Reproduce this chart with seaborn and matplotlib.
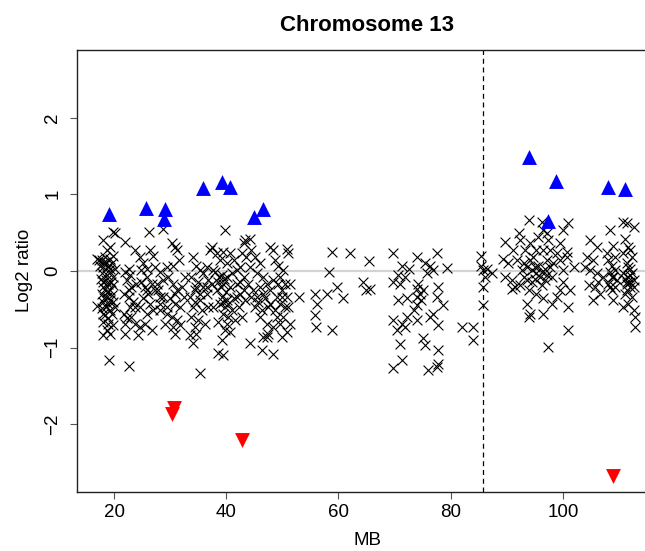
import pandas as pd
import matplotlib
matplotlib.use("Agg")
import matplotlib.pyplot as plt
import seaborn as sns

# chromosome 13 probes, position in MB and log2 ratio
probe_mb = [
    # ~17-20 MB
    18.1, 19.9, 20.2, 19.3, 18.7, 16.9, 17.8, 18.4, 19.3, 19.9, 17.5, 18.1, 19.0, 19.6, 20.2,
    17.8, 18.7, 19.3, 19.9, 18.1, 19.0, 18.4, 19.3, 19.9, 17.8, 18.7, 19.6, 18.1, 19.0, 19.9,
    16.9, 17.8, 19.3, 20.2, 18.4, 19.6, 18.1, 19.0, 18.7, 18.1, 19.3, 19.1,
    17.4, 18.0, 18.6, 19.2, 17.6, 18.6, 19.4, 18.0, 18.8, 18.2, 19.2, 18.6, 18.0, 19.0, 19.8,
    # ~21-27 MB
    22.0, 22.6, 22.0, 22.9, 22.3, 23.1, 21.7, 22.6, 23.4, 22.9, 21.7, 22.3, 23.1, 22.0, 23.7,
    22.0, 24.3, 24.6, 23.7, 24.6, 25.2, 24.9, 25.8, 26.4, 27.0, 25.5, 26.1, 25.2, 26.4, 24.6,
    25.8, 27.0, 25.5, 26.7, 27.3, 26.3, 22.7, 24.0, 24.9, 26.7, 25.8, 27.3,
    25.8, 22.6, 23.7,
    # ~27-33 MB
    28.8, 30.3, 31.2, 30.9, 31.5, 30.6, 29.4, 28.2, 28.8, 29.7, 30.6, 31.2, 32.1, 27.9, 28.8,
    30.0, 30.9, 31.8, 28.2, 29.4, 30.3, 31.2, 29.1, 30.6, 31.8, 30.9, 28.2, 32.7, 32.4, 27.6,
    28.2, 29.4, 30.9,
    # ~33-38 MB
    34.1, 34.7, 35.3, 33.8, 35.0, 35.9, 34.4, 33.5, 35.3, 36.5, 34.1, 35.6, 36.8, 33.8, 35.0,
    36.2, 34.4, 33.5, 34.7, 34.1, 35.3, 37.4, 37.1, 36.5, 37.7, 36.8, 37.4, 35.9,
    34.7, 35.3, 34.4, 36.5,
    # ~38-44 MB
    39.8, 38.3, 39.5, 40.7, 38.9, 40.1, 41.3, 38.0, 39.2, 40.1, 41.0, 38.6, 39.5, 40.7, 41.9,
    38.3, 39.2, 40.1, 41.3, 42.5, 38.9, 39.8, 41.0, 42.2, 39.5, 40.4, 41.6, 42.8, 39.8, 40.7,
    39.2, 38.6, 39.5, 43.1, 43.4, 43.6, 42.5, 43.1, 41.9, 42.8, 37.7, 38.6, 40.1,
    38.8, 39.6, 39.0, 39.9, 39.4, 40.4, 42.5, 43.1, 43.4, 41.9,
    # ~44-52 MB
    44.2, 44.5, 45.1, 46.0, 44.2, 45.4, 46.6, 43.9, 44.8, 46.0, 47.2, 44.5, 45.7, 46.9, 45.1,
    46.3, 47.5, 44.2, 46.0, 47.2, 48.4, 46.6, 47.5, 46.3, 48.4, 47.8, 48.4, 48.7, 49.3, 50.2,
    49.6, 50.8, 51.1, 50.5, 49.9, 50.8, 49.6, 51.1, 50.2, 51.4, 50.8, 49.9, 48.4, 47.8, 49.0,
    48.7, 51.4, 49.0,
    49.3, 49.9, 50.5, 46.6, 45.4, 47.8, 49.6, 47.2,
    # ~52-66 MB
    52.9, 55.8, 56.1, 55.9, 56.0, 58.8, 58.4, 57.9, 58.8, 59.7, 60.9, 62.1, 65.5, 64.4, 65.0,
    65.6,
    # ~69-88 MB
    69.8, 74.0, 77.6, 71.3, 72.5, 75.4, 76.3, 79.3, 70.7, 71.9, 75.7, 76.9, 69.8, 71.0, 74.2,
    75.1, 77.8, 74.0, 72.2, 70.7, 74.8, 77.5, 78.7, 74.0, 73.4, 76.9, 69.8, 71.3, 72.2, 74.0,
    76.3, 77.8, 70.4, 71.9, 75.1, 75.4, 71.0, 77.8, 71.3, 69.8, 76.0, 77.8, 77.5, 74.0, 74.5,
    82.1, 84.0, 84.0, 85.5, 85.8, 86.4, 87.3, 86.1, 85.8, 85.8, 85.5,
    # ~89-102 MB
    89.7, 89.4, 89.7, 90.3, 90.9, 91.2, 92.1, 92.4, 93.9, 93.3, 93.0, 92.7, 92.4, 93.6, 94.2,
    94.7, 95.0, 95.3, 94.5, 93.9, 95.6, 96.5, 96.5, 97.1, 96.8, 95.9, 96.2, 95.3, 96.5, 97.4,
    97.7, 98.3, 98.0, 98.9, 99.5, 99.5, 100.1, 100.1, 100.7, 101.0, 100.1, 99.5, 98.9, 98.0, 93.6,
    94.2, 96.5, 93.9, 101.0, 101.0, 97.4, 100.7, 101.3, 101.9, 96.2, 97.1, 91.5, 90.9, 95.3, 91.8,
    93.6, 94.5, 95.6, 96.2, 97.1, 95.0, 94.2, 96.8, 93.0, 97.7,
    # ~104-107 MB
    104.8, 106.0, 104.3, 105.4, 104.0, 104.8, 106.0, 104.6, 105.7, 105.4, 106.6, 106.3, 107.2,
    # ~108-110 MB
    108.4, 109.0, 108.1, 109.3, 108.7, 108.4, 109.0, 108.1, 109.3, 108.7, 109.0, 109.6, 107.8,
    108.7, 109.3, 108.4,
    # ~110-113 MB
    110.8, 111.4, 112.6, 111.1, 111.7, 112.0, 110.8, 112.3, 111.4, 112.0, 110.8, 111.7, 112.6,
    111.4, 112.0, 111.1, 112.3, 111.7, 110.8, 112.6, 112.9, 112.9, 111.4, 112.0,
    111.7, 112.3, 111.1, 112.0, 112.6, 111.4,
]
probe_log2 = [
    0.40, 0.51, 0.49, 0.31, 0.27, 0.16, 0.14, 0.18, 0.16, 0.20, 0.07, 0.05, 0.07, 0.10, 0.03,
    -0.03, -0.06, -0.01, -0.08, -0.14, -0.17, -0.23, -0.25, -0.19, -0.30, -0.34, -0.32, -0.40, -0.43, -0.40,
    -0.46, -0.49, -0.51, -0.47, -0.58, -0.56, -0.67, -0.69, -0.77, -0.84, -0.82, -1.16,
    0.14, 0.10, 0.12, 0.03, -0.10, -0.12, -0.14, -0.21, -0.27, -0.36, -0.38, -0.47, -0.56, -0.62, -0.71,
    0.38, 0.03, -0.01, -0.06, -0.12, -0.21, -0.30, -0.34, -0.40, -0.47, -0.56, -0.62, -0.60, -0.69, -0.69,
    -0.82, -0.84, -0.73, 0.27, 0.18, 0.10, 0.01, -0.08, 0.27, 0.20, -0.21, -0.30, -0.36, -0.43, -0.47,
    -0.56, -0.51, -0.69, -0.77, -0.25, 0.51, -1.24, -0.17, -0.14, -0.17, 0.03, 0.05,
    -0.25, -0.25, -0.47,
    0.54, 0.36, 0.27, 0.31, 0.14, 0.07, 0.05, -0.01, -0.12, -0.08, -0.17, -0.25, -0.21, -0.25, -0.34,
    -0.36, -0.43, -0.47, -0.51, -0.56, -0.60, -0.64, -0.69, -0.73, -0.71, -0.82, -0.43, -0.08, -0.34, -0.17,
    -0.34, -0.47, -0.30,
    0.18, 0.07, 0.01, -0.08, -0.14, -0.21, -0.25, -0.34, -0.38, -0.30, -0.47, -0.51, -0.47, -0.60, -0.64,
    -0.69, -0.73, -0.84, -0.82, -0.94, -1.33, 0.31, 0.27, 0.05, 0.01, -0.12, -0.17, -0.03,
    -0.21, -0.30, -0.40, -0.21,
    0.53, 0.23, 0.25, 0.23, 0.14, 0.10, 0.14, -0.01, -0.06, -0.08, -0.03, -0.14, -0.17, -0.21, -0.17,
    -0.25, -0.34, -0.38, -0.36, -0.30, -0.43, -0.47, -0.51, -0.47, -0.56, -0.60, -0.64, -0.60, -0.77, -0.80,
    -0.90, -1.07, -1.10, 0.36, 0.40, 0.18, 0.05, -0.08, 0.01, 0.23, -0.47, -0.67, -0.69,
    -0.08, -0.10, -0.21, -0.27, -0.40, -0.43, -0.14, -0.25, -0.38, -0.34,
    0.42, 0.27, 0.18, 0.10, 0.05, -0.03, -0.08, -0.17, -0.25, -0.21, -0.17, -0.34, -0.40, -0.36, -0.47,
    -0.51, -0.47, -0.94, -0.60, -0.69, -0.73, -0.86, -0.82, -1.03, -1.08, 0.31, 0.27, 0.14, 0.07, 0.01,
    -0.08, 0.29, 0.23, -0.17, -0.25, -0.34, -0.43, -0.47, -0.60, -0.69, -0.80, -0.86, -0.12, -0.25, -0.34,
    -0.51, -0.17, -0.60,
    -0.17, -0.34, -0.47, -0.30, -0.34, -0.43, -0.69, -0.86,
    -0.34, -0.30, -0.43, -0.57, -0.73, 0.25, -0.02, -0.30, -0.77, -0.21, -0.36, 0.23, 0.13, -0.14, -0.25,
    -0.23,
    0.23, 0.18, 0.23, 0.07, 0.03, 0.10, 0.07, 0.04, -0.06, -0.08, -0.03, 0.01, -0.14, -0.17, -0.17,
    -0.25, -0.21, -0.34, -0.36, -0.38, -0.38, -0.34, -0.45, -0.45, -0.51, -0.56, -0.64, -0.69, -0.60, -0.64,
    -0.60, -0.71, -0.77, -0.73, -0.88, -0.97, -0.95, -1.03, -1.16, -1.27, -1.29, -1.21, -1.25, -0.23, -0.30,
    -0.73, -0.73, -0.90, 0.19, 0.01, 0.03, -0.03, -0.08, -0.21, -0.45, 0.07,
    0.38, 0.16, -0.08, 0.10, -0.12, 0.27, 0.49, 0.40, 0.66, 0.27, 0.10, 0.01, -0.19, -0.12, 0.36,
    0.18, 0.05, -0.03, -0.14, -0.25, 0.44, 0.53, 0.27, 0.14, 0.03, -0.08, -0.19, -0.30, -0.36, 0.40,
    0.27, 0.10, -0.08, 0.23, 0.36, 0.14, 0.01, -0.14, 0.25, 0.62, 0.53, -0.25, -0.34, -0.43, -0.43,
    -0.56, -0.56, -0.60, -0.47, -0.77, -0.99, 0.18, -0.25, 0.05, 0.64, 0.49, -0.21, -0.23, 0.27, 0.14,
    0.05, 0.01, 0.07, -0.01, -0.06, -0.10, 0.14, -0.12, -0.08, 0.05,
    0.40, 0.31, 0.18, 0.14, 0.05, 0.01, -0.03, -0.19, -0.21, -0.38, -0.30, -0.14, -0.08,
    0.53, 0.33, 0.14, 0.18, 0.07, -0.01, -0.08, -0.17, -0.21, -0.25, -0.38, -0.12, 0.23,
    -0.08, 0.01, -0.21,
    0.64, 0.62, 0.57, 0.42, 0.31, 0.27, 0.23, 0.18, 0.10, 0.03, -0.03, -0.08, -0.12,
    -0.17, -0.21, -0.30, -0.34, -0.43, -0.47, -0.51, -0.60, -0.73, -0.14, -0.06,
    0.05, -0.03, -0.10, -0.14, -0.21, -0.25,
]

# called gains / losses
gain_mb = [19.1, 25.7, 29.1, 29.0, 35.8, 39.3, 40.7, 45.0, 46.5, 94.0, 98.8, 97.4, 108.0, 111.0]
gain_log2 = [0.74, 0.82, 0.81, 0.67, 1.08, 1.16, 1.09, 0.70, 0.81, 1.49, 1.17, 0.65, 1.09, 1.07]
loss_mb = [30.7, 30.3, 42.8, 109.0]
loss_log2 = [-1.79, -1.87, -2.21, -2.67]

centromere_mb = 85.76
chrom_title = "Chromosome 13"

probes = pd.DataFrame({"MB": probe_mb, "log2": probe_log2})
gains = pd.DataFrame({"MB": gain_mb, "log2": gain_log2})
losses = pd.DataFrame({"MB": loss_mb, "log2": loss_log2})

sns.set_style("ticks")
plt.rcParams["font.family"] = ["Liberation Sans", "DejaVu Sans"]
plt.rcParams["text.color"] = "black"
plt.rcParams["axes.labelcolor"] = "black"

fig = plt.figure(figsize=(6.45, 5.51), dpi=100)
ax = fig.add_axes([0.1189, 0.1076, 0.9016, 0.8016])

ax.axhline(0, color="#d3d3d3", lw=1.6, zorder=1)
ax.axvline(centromere_mb, color="black", lw=0.9, ls=(0, (4, 3)), zorder=1)

sns.scatterplot(data=probes, x="MB", y="log2", ax=ax, marker="x", color="black",
                s=50, linewidth=0.8, zorder=2, legend=False)
sns.scatterplot(data=gains, x="MB", y="log2", ax=ax, marker="^", color="blue",
                s=115, linewidth=0, zorder=3, legend=False)
sns.scatterplot(data=losses, x="MB", y="log2", ax=ax, marker="v", color="red",
                s=115, linewidth=0, zorder=3, legend=False)

ax.set_xlim(13.35, 117.0)
ax.set_ylim(-2.88, 2.88)
ax.set_xticks([20, 40, 60, 80, 100])
ax.set_yticks([-2, -1, 0, 1, 2])
ax.set_yticklabels(["\u22122", "\u22121", "0", "1", "2"], rotation=90, va="center")

for side in ["left", "bottom", "top", "right"]:
    ax.spines[side].set_visible(True)
    ax.spines[side].set_color("#222222")
    ax.spines[side].set_linewidth(1.0)

ax.tick_params(axis="both", direction="out", length=5, width=0.8, color="#555555",
               labelsize=13.5, labelcolor="black")
ax.tick_params(axis="y", pad=6)
ax.tick_params(axis="x", pad=4)

ax.set_xlabel("MB", fontsize=13.5, labelpad=8, color="black")
ax.set_ylabel("Log2 ratio", fontsize=13.5, labelpad=8, color="black")
ax.set_title(chrom_title, fontsize=16, fontweight="bold", pad=14, color="black")

fig.savefig("out.png", dpi=100)
